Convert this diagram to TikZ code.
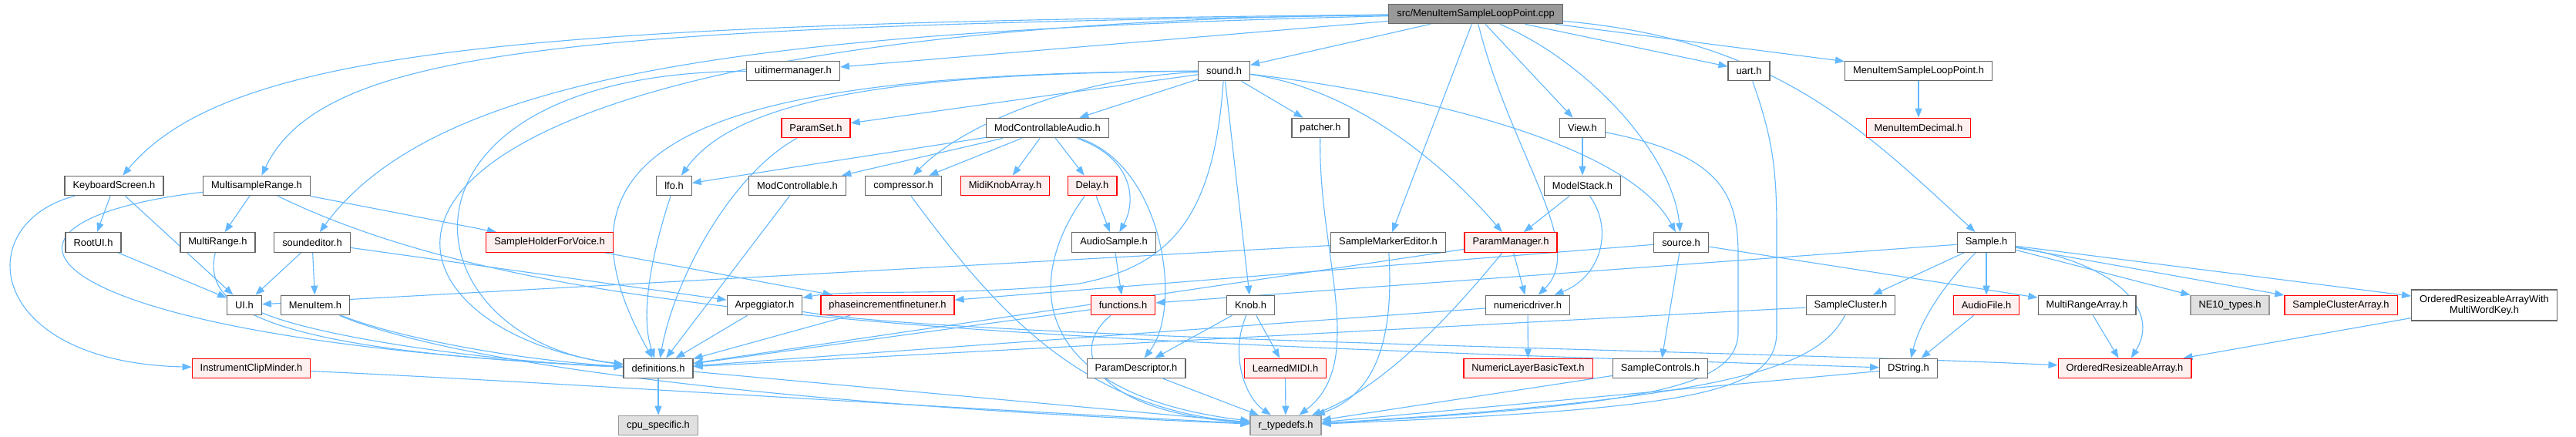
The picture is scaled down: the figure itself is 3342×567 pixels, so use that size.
\documentclass[tikz,border=0pt]{standalone}
\usepackage{fontspec}
\setmainfont{Liberation Sans}
\usetikzlibrary{arrows.meta}
\definecolor{edgeblue}{RGB}{99,184,255}
\definecolor{boxgrey}{RGB}{102,102,102}
\definecolor{sysgrey}{RGB}{153,153,153}
\definecolor{sysfill}{RGB}{224,224,224}
\definecolor{redfill}{RGB}{255,240,240}
\definecolor{redline}{RGB}{255,0,0}
\pgfdeclarelayer{background}
\pgfsetlayers{background,main}

\begin{document}
\begin{tikzpicture}[
  x=1pt, y=-1pt,
  >={Triangle[length=12pt,width=9pt]},
  every node/.style={font=\fontsize{12.9}{14.5}\selectfont},
  file/.style={rectangle, draw=boxgrey, fill=white, line width=1.2pt, minimum height=25.5pt, inner xsep=10.5pt, text=black},
  redfile/.style={file, draw=redline, fill=redfill},
  sysfile/.style={file, draw=sysgrey, fill=sysfill},
  rootfile/.style={file, fill=sysgrey},
  edge/.style={->, draw=edgeblue, line width=1.1pt},
]
\useasboundingbox (0,0) rectangle (3342,567);

% ---- root and first level ----
\node[rootfile] (root) at (1914.5,18) {src/MenuItemSampleLoopPoint.cpp};
\node[file] (uitm)  at (1029,92) {uitimermanager.h};
\node[file] (sound) at (1588,92) {sound.h};
\node[file] (uart)  at (2269,92) {uart.h};
\node[file] (milph) at (2489,92) {MenuItemSampleLoopPoint.h};

% ---- row 3 ----
\node[redfile] (pset)    at (1058.5,166) {ParamSet.h};
\node[file]    (mca)     at (1359,166) {ModControllableAudio.h};
\node[file]    (patcher) at (1713,166) {patcher.h};
\node[file]    (view)    at (2053,166) {View.h};
\node[redfile] (midec)   at (2489,166) {MenuItemDecimal.h};

% ---- row 4 ----
\node[file]    (kbd)    at (148,241) {KeyboardScreen.h};
\node[file]    (msr)    at (333,241) {MultisampleRange.h};
\node[file]    (lfo)    at (874.5,241) {lfo.h};
\node[file]    (modc)   at (1034.5,241) {ModControllable.h};
\node[file]    (comp)   at (1172,241) {compressor.h};
\node[redfile] (mka)    at (1304,241) {MidiKnobArray.h};
\node[redfile] (delay)  at (1417,241) {Delay.h};
\node[file]    (mstack) at (2053,241) {ModelStack.h};

% ---- row 5 ----
\node[file]    (rootui)  at (121,314.5) {RootUI.h};
\node[file]    (mrange)  at (282.5,314.5) {MultiRange.h};
\node[file]    (sedit)   at (405,314.5) {soundeditor.h};
\node[redfile] (shfv)    at (713,314.5) {SampleHolderForVoice.h};
\node[file]    (asample) at (1445,314.5) {AudioSample.h};
\node[file]    (sme)     at (1801,314.5) {SampleMarkerEditor.h};
\node[redfile] (pman)    at (1960,314.5) {ParamManager.h};
\node[file]    (source)  at (2181,314.5) {source.h};
\node[file]    (sample)  at (2577,314.5) {Sample.h};

% ---- row 6 ----
\node[file]    (ui)       at (317,396) {UI.h};
\node[file]    (mitem)    at (409,396) {MenuItem.h};
\node[file]    (arp)      at (992,396) {Arpeggiator.h};
\node[redfile] (pift)     at (1151.5,396) {phaseincrementfinetuner.h};
\node[redfile] (func)     at (1457,396) {functions.h};
\node[file]    (knob)     at (1622.5,396) {Knob.h};
\node[file]    (ndrv)     at (1982,396) {numericdriver.h};
\node[file]    (scluster) at (2401,396) {SampleCluster.h};
\node[redfile] (afile)    at (2577,396) {AudioFile.h};
\node[file]    (mra)      at (2707.5,396) {MultiRangeArray.h};
\node[sysfile] (ne10)     at (2893,396) {NE10\_types.h};
\node[redfile] (sca)      at (3037,396) {SampleClusterArray.h};
\node[file, align=center, minimum height=40pt] (orawk) at (3223,396) {OrderedResizeableArrayWith\\MultiWordKey.h};

% ---- row 7 ----
\node[redfile] (icm)     at (326,478) {InstrumentClipMinder.h};
\node[file]    (defs)    at (854,478) {definitions.h};
\node[file]    (pdesc)   at (1474,478) {ParamDescriptor.h};
\node[redfile] (lmidi)   at (1667.5,478) {LearnedMIDI.h};
\node[redfile] (nlbt)    at (1982.5,478) {NumericLayerBasicText.h};
\node[file]    (sctrl)   at (2154,478) {SampleControls.h};
\node[file]    (dstring) at (2476,478) {DString.h};
\node[redfile] (ora)     at (2756.5,478) {OrderedResizeableArray.h};

% ---- bottom row ----
\node[sysfile] (cpu)   at (854,552) {cpu\_specific.h};
\node[sysfile] (rtype) at (1668,552) {r\_typedefs.h};

\begin{pgfonlayer}{background}
\fill[white] (0,0) rectangle (3342,567);
% ---- includes of the .cpp ----
\draw[edge] (root) .. controls (700,30) and (300,60) .. (kbd);
\draw[edge] (root) .. controls (750,35) and (420,60) .. (msr);
\draw[edge] (root) .. controls (1000,40) and (570,90) .. (sedit);
\draw[edge] (root) .. controls (300,35) and (460,430) .. (defs);
\draw[edge] (root) -- (uitm);
\draw[edge] (root) -- (sound);
\draw[edge] (root) -- (sme);
\draw[edge] (root) .. controls (1960,200) and (2060,320) .. (ndrv);
\draw[edge] (root) -- (view);
\draw[edge] (root) .. controls (2060,80) and (2170,200) .. (source);
\draw[edge] (root) -- (uart);
\draw[edge] (root) -- (milph);
\draw[edge] (root) .. controls (2300,50) and (2420,170) .. (sample);

% ---- left part ----
\draw[edge] (kbd) -- (rootui);
\draw[edge] (kbd) -- (ui);
\draw[edge] (kbd) .. controls (-40,290) and (-20,470) .. (icm);
\draw[edge] (msr) -- (mrange);
\draw[edge] (msr) -- (shfv);
\draw[edge] (msr) .. controls (-80,290) and (40,440) .. (defs);
\draw[edge] (msr) .. controls (700,420) and (1300,440) .. (dstring);
\draw[edge] (rootui) -- (ui);
\draw[edge] (mrange) .. controls (262,400) and (340,455) .. (defs);
\draw[edge] (sedit) -- (ui);
\draw[edge] (sedit) -- (mitem);
\draw[edge] (sedit) -- (arp);
\draw[edge] (ui) .. controls (420,440) and (650,470) .. (defs);
\draw[edge] (mitem) .. controls (520,440) and (680,468) .. (defs);
\draw[edge] (mitem) .. controls (560,460) and (900,520) .. (rtype);
\draw[edge] (icm) .. controls (700,495) and (1150,525) .. (rtype);
\draw[edge] (uitm) .. controls (480,95) and (520,440) .. (defs);
\draw[edge] (shfv) -- (pift);
\draw[edge] (defs) -- (cpu);
\draw[edge] (defs) -- (rtype);

% ---- sound.h ----
\draw[edge] (sound) -- (pset);
\draw[edge] (sound) -- (mca);
\draw[edge] (sound) .. controls (1400,100) and (1250,160) .. (comp);
\draw[edge] (sound) .. controls (1200,95) and (960,120) .. (lfo);
\draw[edge] (sound) .. controls (950,95) and (680,170) .. (defs);
\draw[edge] (sound) -- (patcher);
\draw[edge] (sound) .. controls (1760,115) and (1880,220) .. (pman);
\draw[edge] (sound) .. controls (1900,130) and (2120,200) .. (source);
\draw[edge] (sound) .. controls (1575,280) and (1520,345) .. (1400,368)
                    .. controls (1250,385) and (1100,375) .. (arp);
\draw[edge] (sound) -- (knob);
\draw[edge] (pset) .. controls (950,225) and (875,360) .. (defs);
\draw[edge] (lfo) .. controls (845,330) and (830,410) .. (defs);
\draw[edge] (modc) -- (defs);
\draw[edge] (arp) -- (defs);
\draw[edge] (arp) .. controls (1250,440) and (2300,456) .. (ora);
\draw[edge] (pift) -- (defs);

% ---- ModControllableAudio.h ----
\draw[edge] (mca) -- (lfo);
\draw[edge] (mca) -- (modc);
\draw[edge] (mca) -- (comp);
\draw[edge] (mca) -- (mka);
\draw[edge] (mca) -- (delay);
\draw[edge] (mca) .. controls (1470,205) and (1475,260) .. (asample);
\draw[edge] (mca) .. controls (1510,215) and (1535,400) .. (pdesc);
\draw[edge] (comp) .. controls (1290,400) and (1400,530) .. (rtype);
\draw[edge] (delay) -- (asample);
\draw[edge] (delay) .. controls (1330,360) and (1330,510) .. (rtype);
\draw[edge] (asample) -- (func);
\draw[edge] (func) -- (defs);
\draw[edge] (func) .. controls (1380,460) and (1430,535) .. (rtype);
\draw[edge] (knob) -- (pdesc);
\draw[edge] (knob) -- (lmidi);
\draw[edge] (knob) .. controls (1595,460) and (1615,515) .. (rtype);
\draw[edge] (pdesc) -- (rtype);
\draw[edge] (lmidi) -- (rtype);
\draw[edge] (patcher) .. controls (1710,330) and (1775,470) .. (rtype);

% ---- middle right ----
\draw[edge] (sme) -- (ui);
\draw[edge] (sme) .. controls (1808,430) and (1790,510) .. (rtype);
\draw[edge] (pman) -- (ndrv);
\draw[edge] (pman) -- (defs);
\draw[edge] (pman) .. controls (1890,400) and (1800,500) .. (rtype);
\draw[edge] (view) -- (mstack);
\draw[edge] (view) .. controls (2230,200) and (2255,250) .. (2255,330) -- (2255,430)
                   .. controls (2255,500) and (2150,525) .. (rtype);
\draw[edge] (mstack) -- (pman);
\draw[edge] (mstack) .. controls (2095,300) and (2075,360) .. (ndrv);
\draw[edge] (ndrv) -- (nlbt);
\draw[edge] (ndrv) -- (defs);
\draw[edge] (source) -- (sctrl);
\draw[edge] (source) -- (pift);
\draw[edge] (source) -- (mra);
\draw[edge] (sctrl) -- (rtype);
\draw[edge] (uart) .. controls (2300,180) and (2305,220) .. (2305,300) -- (2305,430)
                   .. controls (2305,510) and (2200,530) .. (rtype);
\draw[edge] (milph) -- (midec);

% ---- Sample.h ----
\draw[edge] (sample) -- (func);
\draw[edge] (sample) -- (scluster);
\draw[edge] (sample) -- (afile);
\draw[edge] (sample) .. controls (2520,370) and (2490,420) .. (dstring);
\draw[edge] (sample) -- (ne10);
\draw[edge] (sample) -- (sca);
\draw[edge] (sample) -- (orawk);
\draw[edge] (sample) .. controls (2740,340) and (2805,400) .. (ora);
\draw[edge] (scluster) -- (defs);
\draw[edge] (scluster) .. controls (2360,470) and (2280,515) .. (rtype);
\draw[edge] (afile) -- (dstring);
\draw[edge] (mra) -- (ora);
\draw[edge] (orawk) -- (ora);
\draw[edge] (dstring) -- (rtype);
\end{pgfonlayer}
\end{tikzpicture}
\end{document}
